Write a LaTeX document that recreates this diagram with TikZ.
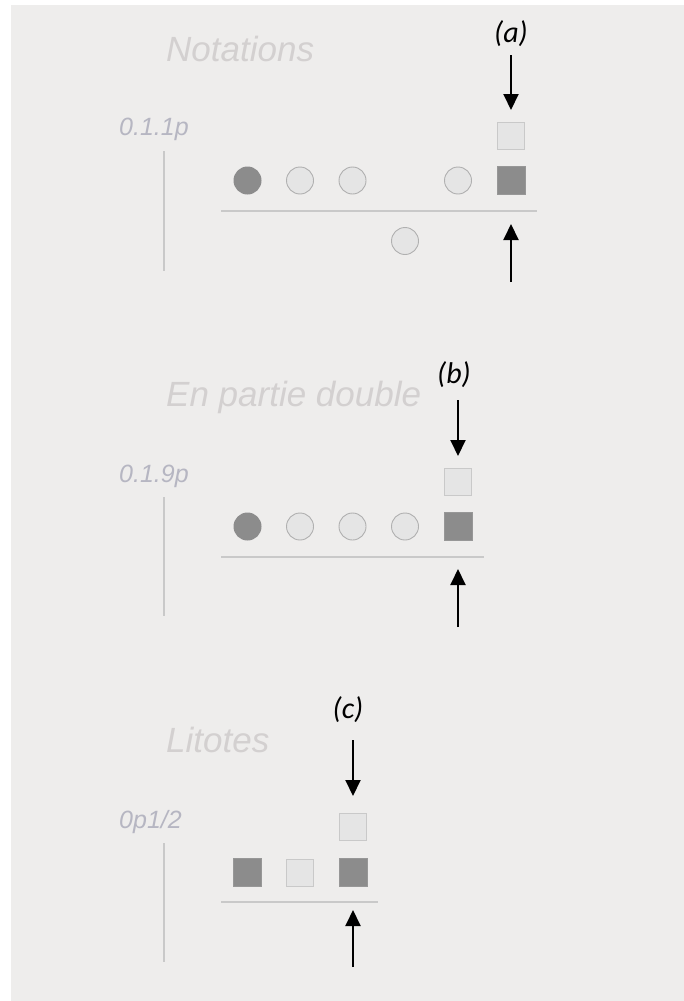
\documentclass[tikz,border=0pt]{standalone}
\usepackage{fontspec}
\setmainfont{Liberation Sans}
\newfontfamily\carl{Carlito}
\usetikzlibrary{arrows.meta}
\definecolor{bgc}{HTML}{EEEDEC}
\definecolor{titc}{HTML}{D3D0D0}
\definecolor{labc}{HTML}{B6B6C2}
\definecolor{linc}{HTML}{C9C9C9}
\definecolor{darkc}{HTML}{8C8C8C}
\definecolor{lightc}{HTML}{E5E5E5}
\definecolor{edgec}{HTML}{B0B0B0}
\tikzset{
  titletext/.style={anchor=base west,inner sep=0,text=titc,font=\fontsize{35}{40}\selectfont\itshape},
  labeltext/.style={anchor=base west,inner sep=0,text=labc,font=\fontsize{25}{28}\selectfont\itshape},
  tagtext/.style={anchor=center,inner sep=0,text=black,font=\carl\fontsize{30}{34}\selectfont\itshape},
  darkdot/.style={circle,minimum size=28pt,inner sep=0,fill=darkc},
  lightdot/.style={circle,minimum size=27pt,inner sep=0,fill=lightc,draw=edgec,line width=0.9pt},
  darksq/.style={rectangle,minimum size=28pt,inner sep=0,fill=darkc,draw=darkc!90!white,line width=0.6pt},
  lightsq/.style={rectangle,minimum size=27pt,inner sep=0,fill=lightc,draw=linc,line width=1pt},
  rule/.style={draw=linc,line width=2pt},
  pointer/.style={draw=black,line width=2pt,-{Triangle[width=15pt,length=16pt]}}
}
\begin{document}
\begin{tikzpicture}[x=1pt,y=-1pt]
\useasboundingbox (0,0) rectangle (684,1001);
\fill[white] (0,0) rectangle (684,1001);
\fill[bgc] (11,5) rectangle (684,1001);

% ---------- (a) Notations ----------
\node[titletext] (t1) at (166,61) {Notations};
\node[tagtext] (g1) at (511,34) {(a)};
\node[labeltext] (l1) at (119,135) {0.1.1p};
\coordinate (v1a) at (164,151);
\coordinate (v1b) at (164,271);
\draw[rule] (v1a) -- (v1b);
\coordinate (h1a) at (221,211);
\coordinate (h1b) at (537,211);
\draw[rule] (h1a) -- (h1b);
\node[darkdot] (a1) at (247.5,180.5) {};
\node[lightdot] (a2) at (300,180.5) {};
\node[lightdot] (a3) at (352.5,180.5) {};
\node[lightdot] (a4) at (458,180.5) {};
\node[darksq] (a5) at (511,180.5) {};
\node[lightsq] (a6) at (511,136) {};
\node[lightdot] (a7) at (405,241) {};
\coordinate (d1s) at (511,55);
\coordinate (d1e) at (511,110);
\draw[pointer] (d1s) -- (d1e);
\coordinate (u1s) at (511,282);
\coordinate (u1e) at (511,224);
\draw[pointer] (u1s) -- (u1e);

% ---------- (b) En partie double ----------
\node[titletext] (t2) at (166,406) {En partie double};
\node[tagtext] (g2) at (454,375) {(b)};
\node[labeltext] (l2) at (119,482) {0.1.9p};
\coordinate (v2a) at (164,497);
\coordinate (v2b) at (164,616);
\draw[rule] (v2a) -- (v2b);
\coordinate (h2a) at (221,557);
\coordinate (h2b) at (484,557);
\draw[rule] (h2a) -- (h2b);
\node[darkdot] (b1) at (247.5,526.5) {};
\node[lightdot] (b2) at (300,526.5) {};
\node[lightdot] (b3) at (352.5,526.5) {};
\node[lightdot] (b4) at (405,526.5) {};
\node[darksq] (b5) at (458,526) {};
\node[lightsq] (b6) at (458,482) {};
\coordinate (d2s) at (458,400);
\coordinate (d2e) at (458,456);
\draw[pointer] (d2s) -- (d2e);
\coordinate (u2s) at (458,627);
\coordinate (u2e) at (458,569);
\draw[pointer] (u2s) -- (u2e);

% ---------- (c) Litotes ----------
\node[titletext] (t3) at (166,752) {Litotes};
\node[tagtext] (g3) at (348,710) {(c)};
\node[labeltext] (l3) at (119,828) {0p1/2};
\coordinate (v3a) at (164,843);
\coordinate (v3b) at (164,962);
\draw[rule] (v3a) -- (v3b);
\coordinate (h3a) at (221,902);
\coordinate (h3b) at (378,902);
\draw[rule] (h3a) -- (h3b);
\node[darksq] (c1) at (247,872.5) {};
\node[lightsq] (c2) at (299.5,872.5) {};
\node[darksq] (c3) at (353,872.5) {};
\node[lightsq] (c4) at (353,827) {};
\coordinate (d3s) at (353,740);
\coordinate (d3e) at (353,796);
\draw[pointer] (d3s) -- (d3e);
\coordinate (u3s) at (353,967);
\coordinate (u3e) at (353,910);
\draw[pointer] (u3s) -- (u3e);
\end{tikzpicture}
\end{document}
